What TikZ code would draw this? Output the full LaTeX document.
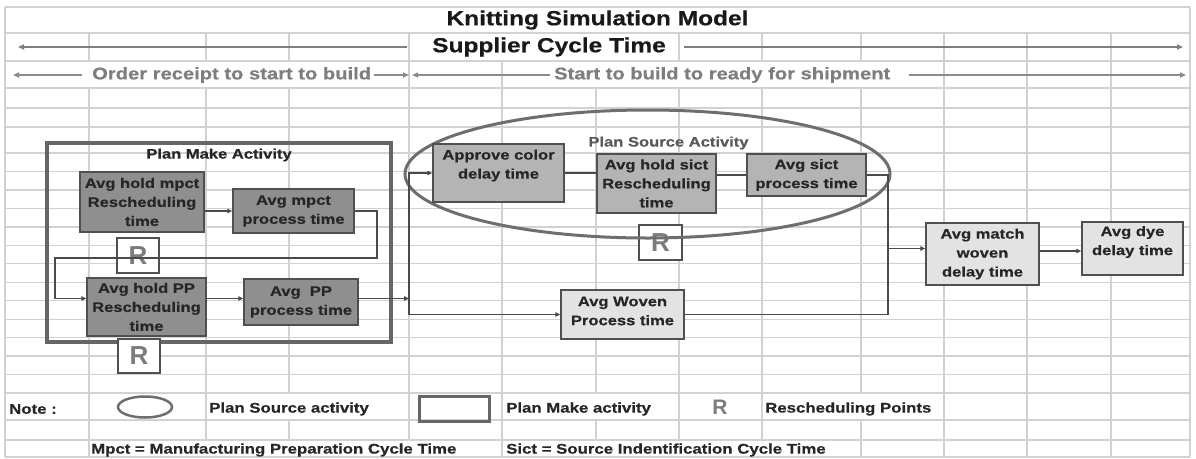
\documentclass[tikz,border=0pt]{standalone}
\usepackage{fontspec}
\newfontfamily\nfb[FakeStretch=1.2,FakeBold=0.5]{Liberation Sans Bold}
\newfontfamily\nfr{Liberation Sans Bold}
\usetikzlibrary{arrows.meta,shapes.geometric}
\definecolor{gridc}{HTML}{D2D2D2}
\definecolor{boxline}{HTML}{505050}
\definecolor{darkf}{HTML}{8F8F8F}
\definecolor{midf}{HTML}{B4B4B4}
\definecolor{lightf}{HTML}{E3E3E3}
\definecolor{txtc}{HTML}{262626}
\definecolor{rgray}{HTML}{7C7C7C}
\definecolor{arrc}{HTML}{4A4A4A}
\definecolor{hgray}{HTML}{7E7E7E}
\definecolor{pmline}{HTML}{666666}
\definecolor{elc}{HTML}{6E6E6E}
\tikzset{
  gridl/.style={draw=gridc, line width=1.2pt},
  bx/.style={draw=boxline, line width=1.4pt, inner sep=0pt, align=center, text=txtc,
    font=\nfb\fontsize{13.8}{19}\selectfont},
  dk/.style={bx, fill=darkf},
  md/.style={bx, fill=midf},
  lt/.style={bx, fill=lightf},
  lbl/.style={inner sep=0pt, align=center, text=txtc, font=\nfb\fontsize{13.8}{19}\selectfont},
  rbox/.style={draw=boxline, line width=1.3pt, fill=white, inner sep=0pt, text=rgray,
    font=\nfr\fontsize{26}{26}\selectfont},
  arr/.style={draw=arrc, line width=1.2pt, -{Triangle[length=5pt,width=4.5pt]}},
  ln/.style={draw=arrc, line width=1.2pt},
  harr/.style={draw=hgray, line width=2.2pt, -{Triangle[length=6pt,width=5pt]}},
  harr3/.style={draw=hgray!90, line width=1.5pt, -{Triangle[length=6pt,width=5pt]}},
  htitle/.style={inner sep=0pt, text=black!90, font=\nfb\fontsize{20.4}{22}\selectfont},
  hsub/.style={inner sep=0pt, text=hgray, font=\nfb\fontsize{16.8}{18}\selectfont},
  ft/.style={inner sep=0pt, text=txtc, font=\nfb\fontsize{14}{16}\selectfont},
}
\begin{document}
\begin{tikzpicture}[x=1pt,y=-1pt]
\useasboundingbox (0,0) rectangle (1196,458);
\fill[white] (0,0) rectangle (1196,458);
% ---------------- grid ----------------
\foreach \y in {7,33,61,88,108,127,153,171.5,190,208.4,226.9,245.3,263.8,282.2,300.7,319.2,337.6,356,374.5,393,420,440,457}
  \draw[gridl] (5,\y) -- (1190,\y);
\draw[gridl] (5,7) -- (5,457);
\draw[gridl] (1190,7) -- (1190,457);
\foreach \x in {89,206,289,409,679,762,861,944,1027,1111} \draw[gridl] (\x,33) -- (\x,61);
\foreach \x in {409,502,944,1027,1111} \draw[gridl] (\x,61) -- (\x,88);
\foreach \x in {89,206,289,409,502,596,679,762,861,944,1027,1111} \draw[gridl] (\x,88) -- (\x,393);
\foreach \x in {89,206,409,502,679,762,944,1027,1111} \draw[gridl] (\x,393) -- (\x,420);
\foreach \x in {89,206,289,409,502,596,679,762,861,944,1027,1111} \draw[gridl] (\x,420) -- (\x,440);
\foreach \x in {89,502,861,944,1027,1111} \draw[gridl] (\x,440) -- (\x,457);

% ---------------- header ----------------
\node[htitle] (title) at (597.5,20) {Knitting Simulation Model};
\node[htitle] (sct) at (549,47) {Supplier Cycle Time};
\coordinate (h2l) at (18,47);
\coordinate (h2a) at (407,47);
\coordinate (h2b) at (684,47);
\coordinate (h2r) at (1183,47);
\draw[harr] (h2a) -- (h2l);
\draw[harr] (h2b) -- (h2r);
\node[hsub, anchor=west] (ort) at (92,75) {Order receipt to start to build};
\node[hsub, anchor=west] (stb) at (554,75) {Start to build to ready for shipment};
\coordinate (h3a) at (13,75);
\coordinate (h3b) at (82,75);
\coordinate (h3c) at (409,75);
\coordinate (h3d) at (412,75);
\coordinate (h3e) at (909,75);
\coordinate (h3f) at (1186,75);
\draw[harr3] (h3b) -- (h3a);
\draw[harr3] ([xshift=3pt]ort.east) -- (h3c);
\draw[harr3] ([xshift=-4pt]stb.west) -- (h3d);
\draw[harr3] (h3e) -- (h3f);

% ---------------- plan make activity ----------------
\node[draw=pmline, line width=3.5pt, minimum width=344pt, minimum height=199pt, inner sep=0pt] (pma) at (219,242.5) {};
\node[lbl] (pmt) at (219,155) {Plan Make Activity};
\node[rbox, minimum width=42pt, minimum height=35pt] (r1) at (138,255.5) {R};
\node[rbox, minimum width=42pt, minimum height=34pt] (r2) at (139,356) {R};
\node[dk, minimum width=124pt, minimum height=60pt] (hm) at (142,202) {Avg hold mpct\\Rescheduling\\time};
\node[dk, minimum width=121pt, minimum height=44pt] (mp) at (293.5,211) {Avg mpct\\process time};
\node[dk, minimum width=119pt, minimum height=58pt] (hp) at (146.5,307) {Avg hold PP\\Rescheduling\\time};
\node[dk, minimum width=114pt, minimum height=46pt] (pp) at (301,302) {Avg\ \ PP\\process time};

% ---------------- plan source activity ----------------
\node[rbox, minimum width=43pt, minimum height=35pt] (r3) at (660.5,242.5) {R};
\node[draw=elc, line width=3pt, ellipse, minimum width=485pt, minimum height=128pt, inner sep=0pt] (psa) at (647.5,174) {};
\node[lbl, text=black!65] (pst) at (668.5,143) {Plan Source Activity};
\node[md, minimum width=131pt, minimum height=58pt,
  label={[lbl, yshift=7.5pt]center:{Approve color\\delay time}}] (ac) at (498.5,173) {};
\node[md, minimum width=119pt, minimum height=59pt] (hs) at (656.5,183.5) {Avg hold sict\\Rescheduling\\time};
\node[md, minimum width=119pt, minimum height=42pt] (sp) at (806.5,175) {Avg sict\\process time};
\node[lt, minimum width=123pt, minimum height=49pt,
  label={[lbl, yshift=3.5pt]center:{Avg Woven\\Process time}}] (wv) at (622.5,314.5) {};
\node[lt, minimum width=113pt, minimum height=62pt] (mw) at (982.5,254) {Avg match\\woven\\delay time};
\node[lt, minimum width=101pt, minimum height=53pt,
  label={[lbl, yshift=6.5pt]center:{Avg dye\\delay time}}] (dy) at (1132.5,248.5) {};

% ---------------- connectors ----------------
\coordinate (m1) at (377,258);
\coordinate (m2) at (55,298.5);
\draw[arr] (hm.east |- mp.west) -- (mp.west);
\draw[arr] (mp.east) -| (m1) -| (m2) -- (m2 -| hp.west);
\draw[arr] (hp.east |- m2) -- (pp.west |- m2);
\coordinate (j1) at (409,298.5);
\draw[arr] (pp.east |- m2) -- (j1);
\coordinate (jb) at (409,314.5);
\draw[arr] (jb) |- (ac.west);
\draw[arr] (jb) -- (wv.west);
\draw[ln] (ac.east) -- (ac.east -| hs.west);
\draw[ln] (hs.east |- sp.west) -- (sp.west);
\coordinate (kb) at (888,314.5);
\coordinate (k1) at (888,248.5);
\draw[ln] (sp.east) -| (kb) -- (wv.east);
\draw[arr] (k1) -- (k1 -| mw.west);
\coordinate (k2) at (1039,251);
\draw[arr] (mw.east |- k2) -- (dy.west |- k2);

% ---------------- legend ----------------
\node[ft, anchor=west] (note) at (9,409) {Note :};
\node[draw=elc, line width=2.5pt, ellipse, minimum width=54pt, minimum height=21pt, inner sep=0pt] (lege) at (145,407) {};
\node[ft, anchor=west] (legs) at (209,409) {Plan Source activity};
\node[draw=pmline, line width=3pt, minimum width=70pt, minimum height=25pt, inner sep=0pt] (legr) at (454,408.5) {};
\node[ft, anchor=west] (legm) at (506,409) {Plan Make activity};
\node[inner sep=0pt, text=rgray, font=\nfr\fontsize{21}{21}\selectfont] (legR) at (720,407) {R};
\node[ft, anchor=west] (legp) at (765,409) {Rescheduling Points};
\node[ft, anchor=west] (mpct) at (91,450) {Mpct = Manufacturing Preparation Cycle Time};
\node[ft, anchor=west] (sict) at (506,450) {Sict = Source Indentification Cycle Time};
\end{tikzpicture}
\end{document}
